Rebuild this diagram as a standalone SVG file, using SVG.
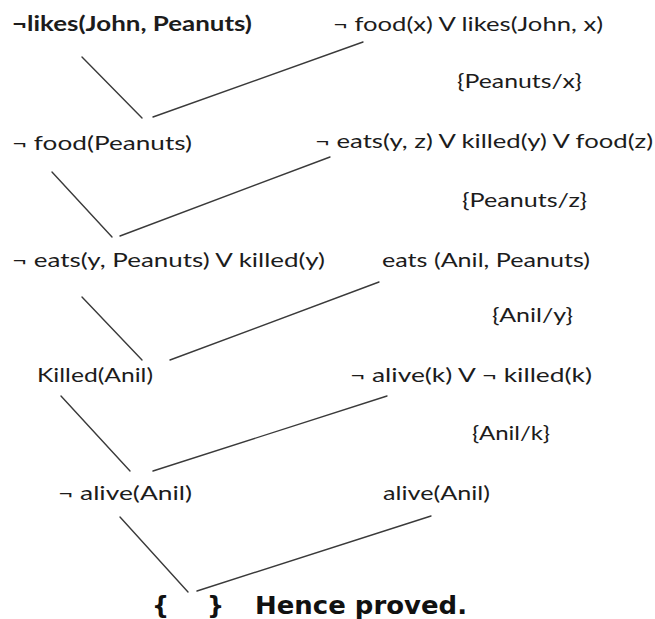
<svg xmlns="http://www.w3.org/2000/svg" width="655" height="619" viewBox="0 0 655 619">
<style>
.t{font-family:"Lato","Liberation Sans",sans-serif;font-size:20px;fill:#1c1c1c}
.b{font-weight:bold}
.h{font-family:"DejaVu Sans","Liberation Sans",sans-serif;font-size:24px;font-weight:bold;fill:#111}
.c line{stroke:#3a3a3a;stroke-width:1.4;stroke-linecap:round}
</style>
<rect width="655" height="619" fill="#fff"/>
<g id="connectors" class="c">
<line x1="82" y1="57" x2="142" y2="118"/>
<line x1="153" y1="117" x2="363" y2="42"/>
<line x1="52" y1="172" x2="112" y2="237"/>
<line x1="120" y1="236" x2="330" y2="157"/>
<line x1="82" y1="297" x2="142" y2="360"/>
<line x1="170" y1="360" x2="379" y2="282"/>
<line x1="61" y1="396" x2="130" y2="471"/>
<line x1="153" y1="471" x2="387" y2="396"/>
<line x1="120" y1="517" x2="188" y2="592"/>
<line x1="197" y1="591" x2="431" y2="516"/>
</g>
<g id="n1"><text class="t b" x="12" y="31" textLength="240" lengthAdjust="spacingAndGlyphs">¬likes(John, Peanuts)</text></g>
<g id="n2"><text class="t" x="333" y="31" textLength="270" lengthAdjust="spacingAndGlyphs">¬ food(x) V likes(John, x)</text></g>
<g id="s1"><text class="t" x="457" y="88" textLength="125" lengthAdjust="spacingAndGlyphs">{Peanuts/x}</text></g>
<g id="n3"><text class="t" x="12" y="150" textLength="180" lengthAdjust="spacingAndGlyphs">¬ food(Peanuts)</text></g>
<g id="n4"><text class="t" x="315" y="148" textLength="338" lengthAdjust="spacingAndGlyphs">¬ eats(y, z) V killed(y) V food(z)</text></g>
<g id="s2"><text class="t" x="462" y="207" textLength="125" lengthAdjust="spacingAndGlyphs">{Peanuts/z}</text></g>
<g id="n5"><text class="t" x="12" y="267" textLength="313" lengthAdjust="spacingAndGlyphs">¬ eats(y, Peanuts) V killed(y)</text></g>
<g id="n6"><text class="t" x="382" y="267" textLength="208" lengthAdjust="spacingAndGlyphs">eats (Anil, Peanuts)</text></g>
<g id="s3"><text class="t" x="492" y="322" textLength="81" lengthAdjust="spacingAndGlyphs">{Anil/y}</text></g>
<g id="n7"><text class="t" x="37" y="382" textLength="116" lengthAdjust="spacingAndGlyphs">Killed(Anil)</text></g>
<g id="n8"><text class="t" x="350" y="382" textLength="242" lengthAdjust="spacingAndGlyphs">¬ alive(k) V ¬ killed(k)</text></g>
<g id="s4"><text class="t" x="472" y="440" textLength="78" lengthAdjust="spacingAndGlyphs">{Anil/k}</text></g>
<g id="n9"><text class="t" x="58" y="500" textLength="134" lengthAdjust="spacingAndGlyphs">¬ alive(Anil)</text></g>
<g id="n10"><text class="t" x="383" y="500" textLength="107" lengthAdjust="spacingAndGlyphs">alive(Anil)</text></g>
<g id="n11"><text class="h" x="152" y="614">{</text><text class="h" x="207" y="614">}</text><text class="h" x="255" y="614" textLength="212" lengthAdjust="spacingAndGlyphs">Hence proved.</text></g>
</svg>
